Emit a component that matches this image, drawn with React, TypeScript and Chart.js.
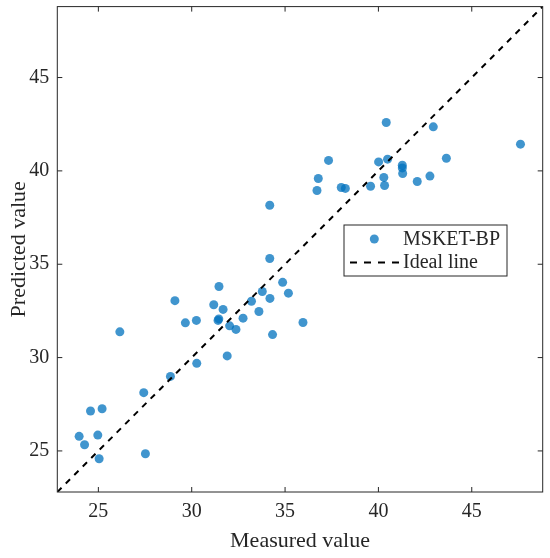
import React, { useEffect, useRef } from 'react';
import { Chart, registerables } from 'chart.js';

Chart.register(...registerables);

// values
const measured = [
  23.97, 24.26, 24.58, 25.2, 24.97, 25.04, 27.52, 27.43, 28.86, 30.27,
  31.9, 26.15, 29.1, 29.66, 30.25, 31.46, 31.18, 31.68, 31.41, 31.45,
  32.03, 32.37, 32.75, 33.2, 33.6, 33.78, 34.19, 34.33, 34.87, 35.18,
  35.96, 34.18, 34.18, 40.42, 42.94, 43.64, 37.33, 36.78, 36.71, 38.01,
  38.23, 39.58, 40.01, 40.49, 40.29, 40.33, 41.28, 41.28, 41.3, 42.08,
  42.76, 47.61,
];
const predicted = [
  25.78, 25.33, 27.14, 27.26, 25.85, 24.58, 24.85, 28.12, 28.99, 29.69,
  30.09, 31.38, 33.05, 31.86, 31.99, 33.81, 32.83, 32.58, 31.99, 32.07,
  31.7, 31.51, 32.11, 33.02, 32.47, 33.54, 33.17, 31.23, 34.03, 33.45,
  31.88, 38.16, 35.31, 42.59, 42.36, 40.68, 40.56, 39.59, 38.95, 39.11,
  39.06, 39.18, 40.48, 40.63, 39.65, 39.22, 40.3, 40.16, 39.86, 39.43,
  39.72, 41.43,
];
const axisRange = [22.8, 48.8];
const xTicks = [25, 30, 35, 40, 45];
const yTicks = [25, 30, 35, 40, 45];
const seriesName = 'MSKET-BP';
const lineName = 'Ideal line';
const xTitle = 'Measured value';
const yTitle = 'Predicted value';

const SERIF = '"Liberation Serif", "Times New Roman", serif';
const INK = '#262626';
const DOT = 'rgba(0,114,189,0.75)';

const framePlugin = {
  id: 'frame',
  afterDraw(chart: any) {
    const { ctx, chartArea: a, scales } = chart;
    const xs = scales.x;
    const ys = scales.y;
    ctx.save();
    ctx.strokeStyle = INK;
    ctx.lineWidth = 1;
    ctx.strokeRect(a.left, a.top, a.right - a.left, a.bottom - a.top);

    // inward ticks on all four sides
    const tl = 5;
    ctx.beginPath();
    xs.ticks.forEach((t: any) => {
      const px = xs.getPixelForValue(t.value);
      ctx.moveTo(px, a.bottom);
      ctx.lineTo(px, a.bottom - tl);
      ctx.moveTo(px, a.top);
      ctx.lineTo(px, a.top + tl);
    });
    ys.ticks.forEach((t: any) => {
      const py = ys.getPixelForValue(t.value);
      ctx.moveTo(a.left, py);
      ctx.lineTo(a.left + tl, py);
      ctx.moveTo(a.right, py);
      ctx.lineTo(a.right - tl, py);
    });
    ctx.stroke();

    // axis titles
    ctx.fillStyle = INK;
    ctx.font = `22px ${SERIF}`;
    ctx.textAlign = 'center';
    ctx.textBaseline = 'alphabetic';
    ctx.fillText(xTitle, (a.left + a.right) / 2, 546.5);
    ctx.save();
    ctx.translate(25, (a.top + a.bottom) / 2);
    ctx.rotate(-Math.PI / 2);
    ctx.fillText(yTitle, 0, 0);
    ctx.restore();

    // legend box
    const lx = 344, ly = 225, lw = 163, lh = 51;
    ctx.fillStyle = '#fff';
    ctx.fillRect(lx, ly, lw, lh);
    ctx.strokeStyle = INK;
    ctx.lineWidth = 1;
    ctx.strokeRect(lx, ly, lw, lh);

    ctx.fillStyle = DOT;
    ctx.beginPath();
    ctx.arc(374.3, 239, 4.5, 0, Math.PI * 2);
    ctx.fill();

    ctx.strokeStyle = '#000';
    ctx.lineWidth = 2;
    ctx.setLineDash([7, 7]);
    ctx.beginPath();
    ctx.moveTo(350, 262.5);
    ctx.lineTo(399, 262.5);
    ctx.stroke();
    ctx.setLineDash([]);

    ctx.fillStyle = INK;
    ctx.font = `20px ${SERIF}`;
    ctx.textAlign = 'left';
    ctx.textBaseline = 'middle';
    ctx.fillText(seriesName, 403, 240);
    ctx.fillText(lineName, 403, 263);
    ctx.restore();
  },
};

const App: React.FC = () => {
  const canvasRef = useRef<HTMLCanvasElement>(null);
  const chartInstance = useRef<Chart | null>(null);

  useEffect(() => {
    if (!canvasRef.current) return;
    if (chartInstance.current) chartInstance.current.destroy();

    const points = measured.map((m, i) => ({ x: m, y: predicted[i] }));
    const ideal = axisRange.map((v) => ({ x: v, y: v }));
    const tickFont = { family: SERIF, size: 20 };

    chartInstance.current = new Chart(canvasRef.current, {
      type: 'scatter',
      data: {
        datasets: [
          {
            type: 'line',
            label: lineName,
            data: ideal,
            borderColor: '#000',
            borderWidth: 2,
            borderDash: [6, 6],
            pointRadius: 0,
            fill: false,
            order: 0,
          },
          {
            label: seriesName,
            data: points,
            backgroundColor: DOT,
            borderWidth: 0,
            pointRadius: 4.5,
            order: 1,
          },
        ],
      },
      options: {
        responsive: false,
        animation: false,
        layout: { padding: { left: 0, right: 7.3, top: 6.6, bottom: 0 } },
        plugins: {
          legend: { display: false },
          tooltip: { enabled: false },
        },
        scales: {
          x: {
            type: 'linear',
            min: axisRange[0],
            max: axisRange[1],
            grid: { display: false, drawTicks: false },
            border: { display: false },
            afterBuildTicks: (s: any) => {
              s.ticks = xTicks.map((v) => ({ value: v }));
            },
            afterFit: (s: any) => {
              s.height = 66;
              s.paddingLeft = 0;
              s.paddingRight = 0;
            },
            ticks: { font: tickFont, color: INK, padding: 8, maxRotation: 0 },
          },
          y: {
            type: 'linear',
            min: axisRange[0],
            max: axisRange[1],
            grid: { display: false, drawTicks: false },
            border: { display: false },
            afterBuildTicks: (s: any) => {
              s.ticks = yTicks.map((v) => ({ value: v }));
            },
            afterFit: (s: any) => {
              s.width = 57.3;
              s.paddingTop = 0;
              s.paddingBottom = 0;
            },
            ticks: { font: tickFont, color: INK, padding: 8 },
          },
        },
      },
      plugins: [framePlugin],
    });

    return () => {
      if (chartInstance.current) {
        chartInstance.current.destroy();
        chartInstance.current = null;
      }
    };
  }, []);

  return (
    <div style={{ position: 'absolute', left: 0, top: 0, width: 550, height: 558, background: '#fff' }}>
      <canvas ref={canvasRef} width={550} height={558} />
    </div>
  );
};

export default App;
